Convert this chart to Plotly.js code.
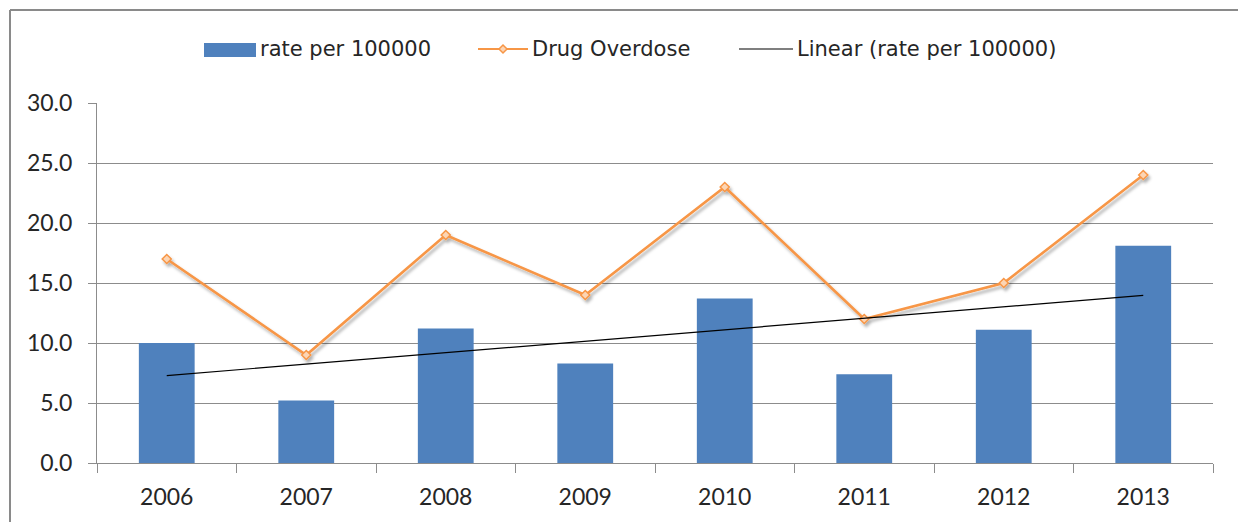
<!DOCTYPE html>
<html>
<head>
<meta charset="utf-8">
<script src="https://cdn.plot.ly/plotly-3.0.1.min.js"></script>
<style>
  html, body { margin: 0; padding: 0; background: #ffffff; }
  #chart { width: 1238px; height: 522px; }
</style>
</head>
<body>
<div id="chart"></div>
<script>
// Yearly values
const years = ['2006', '2007', '2008', '2009', '2010', '2011', '2012', '2013'];
const ratePer100000 = [10.0, 5.2, 11.2, 8.3, 13.7, 7.4, 11.1, 18.1];
const drugOverdose = [17, 9, 19, 14, 23, 12, 15, 24];
const legendLabels = ['rate per 100000', 'Drug Overdose', 'Linear (rate per 100000)'];

// Least-squares linear trend of the rate series over the year index
function linearTrend(values) {
  const n = values.length;
  const xs = values.map((_, i) => i + 1);
  const mx = xs.reduce((a, b) => a + b, 0) / n;
  const my = values.reduce((a, b) => a + b, 0) / n;
  let sxy = 0, sxx = 0;
  for (let i = 0; i < n; i++) {
    sxy += (xs[i] - mx) * (values[i] - my);
    sxx += (xs[i] - mx) * (xs[i] - mx);
  }
  const slope = sxy / sxx;
  return xs.map(x => my + slope * (x - mx));
}
const trend = linearTrend(ratePer100000);

const W = 1238, H = 522;
const M = { l: 97, r: 25, t: 103, b: 59 };
const plotW = W - M.l - M.r, plotH = H - M.t - M.b;
// pixel -> paper helpers for decorations around the plot
const px = x => (x - M.l) / plotW;
const py = y => (H - M.b - y) / plotH;

const BLUE = '#4F81BD', ORANGE = '#F79646', GRID = '#8c8c8c', TEXT = '#262626';

const traces = [
  {
    type: 'bar', x: years, y: ratePer100000, name: legendLabels[0],
    marker: { color: BLUE }, hoverinfo: 'x+y'
  },
  {
    type: 'scatter', mode: 'lines+markers', x: years, y: drugOverdose, name: legendLabels[1],
    line: { color: ORANGE, width: 2.6 },
    marker: { symbol: 'diamond', size: 7, color: '#FCD5B4', line: { color: ORANGE, width: 1.5 } }
  },
  {
    type: 'scatter', mode: 'lines', x: years, y: trend, name: legendLabels[2],
    line: { color: '#000000', width: 1.2 }
  }
];

// Legend drawn as shapes + annotations
const legY = 49;
const FRAME = { color: '#8a8a8a', width: 2 };
const shapes = [
  // outer chart frame (left and top edges)
  { type: 'line', xref: 'paper', yref: 'paper', x0: px(10), x1: px(10), y0: py(522), y1: py(10), line: FRAME },
  { type: 'line', xref: 'paper', yref: 'paper', x0: px(10), x1: px(1238), y0: py(10), y1: py(10), line: FRAME },
  { type: 'rect', xref: 'paper', yref: 'paper', x0: px(204), x1: px(256), y0: py(57), y1: py(43),
    line: { width: 0 }, fillcolor: BLUE },
  { type: 'line', xref: 'paper', yref: 'paper', x0: px(478), x1: px(528), y0: py(legY), y1: py(legY),
    line: { color: ORANGE, width: 2 } },
  { type: 'path', xref: 'paper', yref: 'paper',
    path: `M ${px(503)} ${py(legY - 4)} L ${px(507)} ${py(legY)} L ${px(503)} ${py(legY + 4)} L ${px(499)} ${py(legY)} Z`,
    line: { color: ORANGE, width: 1.5 }, fillcolor: '#FCD5B4' },
  { type: 'line', xref: 'paper', yref: 'paper', x0: px(739), x1: px(793), y0: py(legY), y1: py(legY),
    line: { color: '#000000', width: 1.2 } }
];
const legFont = { family: 'DejaVu Sans', size: 21, color: TEXT };
const annotations = [
  { text: legendLabels[0], x: px(258), y: py(legY) },
  { text: legendLabels[1], x: px(530), y: py(legY) },
  { text: legendLabels[2], x: px(795), y: py(legY) }
].map(a => Object.assign(a, { xref: 'paper', yref: 'paper', xanchor: 'left', yanchor: 'middle',
  showarrow: false, font: legFont }));

const tickFont = { family: 'Lato', size: 23, color: TEXT };
const layout = {
  width: W, height: H,
  margin: M,
  paper_bgcolor: '#ffffff', plot_bgcolor: '#ffffff',
  showlegend: false,
  bargap: 0.6,
  xaxis: {
    type: 'category', tickson: 'boundaries', ticks: 'outside', ticklen: 9, tickcolor: GRID,
    showline: true, linecolor: GRID, linewidth: 1, showgrid: false, zeroline: false,
    tickfont: tickFont, ticklabelstandoff: 13, fixedrange: true
  },
  yaxis: {
    range: [0, 30], dtick: 5, tickformat: '.1f', ticks: 'outside', ticklen: 8, tickcolor: GRID,
    showline: true, linecolor: GRID, linewidth: 1, showgrid: true, gridcolor: GRID, gridwidth: 1,
    zeroline: false, tickfont: tickFont, ticklabelstandoff: 11, fixedrange: true
  },
  shapes: shapes,
  annotations: annotations
};

Plotly.newPlot('chart', traces, layout, { displayModeBar: false, staticPlot: true }).then(gd => {
  // soft drop shadow under the overdose line
  const svg = gd.querySelector('svg.main-svg');
  const ns = 'http://www.w3.org/2000/svg';
  let defs = svg.querySelector('defs');
  if (!defs) { defs = document.createElementNS(ns, 'defs'); svg.insertBefore(defs, svg.firstChild); }
  const f = document.createElementNS(ns, 'filter');
  f.setAttribute('id', 'lineShadow');
  f.setAttribute('x', '-10%'); f.setAttribute('y', '-10%');
  f.setAttribute('width', '120%'); f.setAttribute('height', '130%');
  const ds = document.createElementNS(ns, 'feDropShadow');
  ds.setAttribute('dx', '2'); ds.setAttribute('dy', '3'); ds.setAttribute('stdDeviation', '1.6');
  ds.setAttribute('flood-color', '#000'); ds.setAttribute('flood-opacity', '0.3');
  f.appendChild(ds); defs.appendChild(f);
  const sc = gd.querySelectorAll('.scatterlayer .trace');
  if (sc.length) sc[0].setAttribute('filter', 'url(#lineShadow)');
});
</script>
</body>
</html>
